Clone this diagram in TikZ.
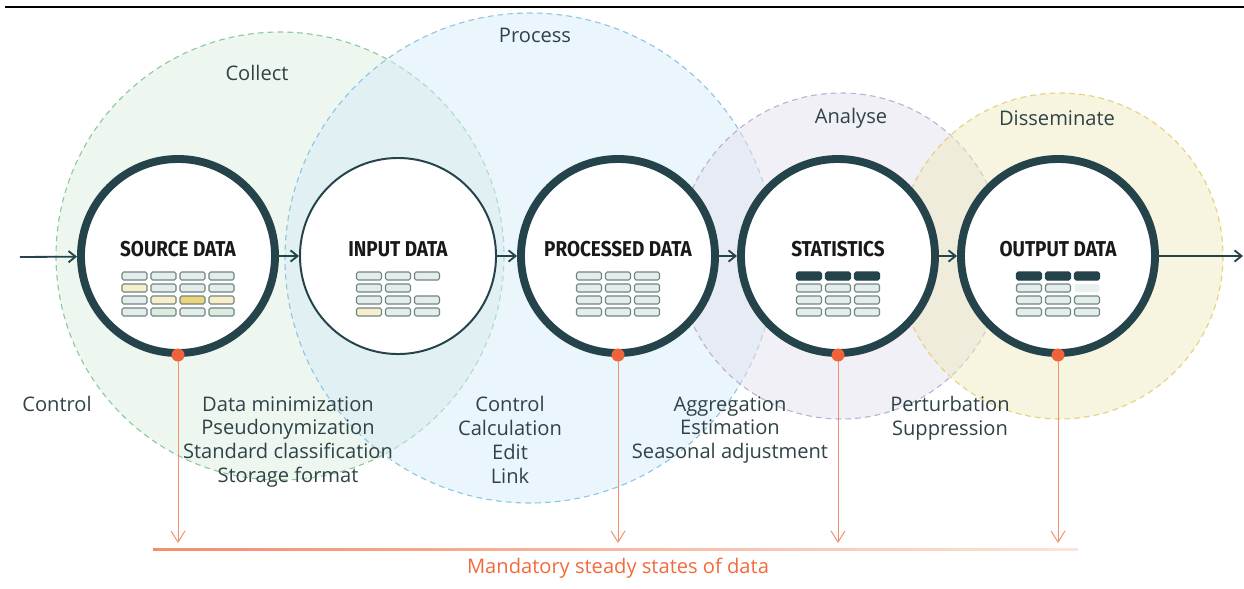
\documentclass[tikz,border=0pt]{standalone}
\usepackage{fontspec}
\setmainfont{Open Sans}
\newfontfamily\titlefont[FakeStretch=0.88]{Fira Sans}
\usetikzlibrary{arrows.meta}

\definecolor{slate}{HTML}{24434A}
\definecolor{txt}{HTML}{2F4347}
\definecolor{orangetxt}{HTML}{F26A3C}
\definecolor{orangeline}{HTML}{F28E6C}
\definecolor{orangedot}{HTML}{F0623A}
\definecolor{collectc}{HTML}{DDEDE1}
\definecolor{collectd}{HTML}{8CCB9C}
\definecolor{processc}{HTML}{D5EDF7}
\definecolor{processd}{HTML}{8EC5E4}
\definecolor{analysec}{HTML}{E5E1EF}
\definecolor{analysed}{HTML}{BBB2D8}
\definecolor{dissemc}{HTML}{EFE9C1}
\definecolor{dissemd}{HTML}{E4D27C}
\definecolor{cellg}{HTML}{E4EDEB}
\definecolor{celly}{HTML}{F8EECB}
\definecolor{cellY}{HTML}{EDD47C}
\definecolor{cellG}{HTML}{DCEDE0}
\definecolor{cellf}{HTML}{E9F1EF}
\definecolor{cellline}{HTML}{6F8683}

\begin{document}
\begin{tikzpicture}[x=0.025cm, y=-0.025cm, % 1 unidade = 1 pixel
  state/.style={circle, draw=slate, line width=5.6pt, fill=white, text=black!90,
    minimum size=4.85cm, inner sep=0pt, text height=8pt, text depth=8pt,
    font=\titlefont\bfseries\fontsize{15.3}{17}\selectfont},
  flow/.style={draw=slate, line width=1.3pt, -{Straight Barb[length=5pt,width=8pt]}},
  drop/.style={draw=orangeline, line width=0.7pt, -{Straight Barb[length=8pt,width=10pt]}},
  phase/.style={dash pattern=on 4pt off 3pt, line width=0.8pt, fill opacity=0.5},
  lbl/.style={font=\fontsize{14.3}{17}\selectfont, text=txt, align=center, inner sep=0pt},
  cell/.style={draw=cellline, line width=0.8pt, rounded corners=1.2pt},
  c-g/.style={fill=cellg}, c-y/.style={fill=celly}, c-Y/.style={fill=cellY},
  c-G/.style={fill=cellG}, c-D/.style={fill=slate, draw=slate},
  c-f/.style={fill=cellf, draw=none}]

  \useasboundingbox (0,0) rectangle (1244,588);
  \draw[line width=2.1pt] (5,7) -- (1244,7);

  % fases
  \draw[phase, draw=collectd, fill=collectc] (280,256) circle[radius=224];
  \draw[phase, draw=processd, fill=processc] (530,258) circle[radius=245];
  \draw[phase, draw=analysed, fill=analysec] (841,256) circle[radius=163];
  \draw[phase, draw=dissemd, fill=dissemc] (1060,256) circle[radius=163];

  \node[lbl] (collect) at (257,73) {Collect};
  \node[lbl] (process) at (535,35) {Process};
  \node[lbl] (analyse) at (851,118) {Analyse};
  \node[lbl] (disseminate) at (1057,118) {Disseminate};

  % estados dos dados
  \node[state] (source) at (178,256) {SOURCE DATA};
  \node[state, line width=1.4pt, minimum size=4.9cm] (input) at (398,256) {INPUT DATA};
  \node[state] (processed) at (618,256) {PROCESSED DATA};
  \node[state] (statistics) at (838,256) {STATISTICS};
  \node[state] (output) at (1058,256) {OUTPUT DATA};

  \foreach \n/\k/\rows in {source/4/{{g,g,g,g},{y,g,g,g},{g,y,Y,y},{g,G,g,G}},
      input/3/{{g,g,g},{g,g},{g,g,g},{y,g,g}},
      processed/3/{{g,g,g},{g,g,g},{g,g,g},{g,g,g}},
      statistics/3/{{D,D,D},{g,g,g},{g,g,g},{g,g,g}},
      output/3/{{D,D,D},{g,g,f},{g,g,g},{g,g,g}}} {
    \pgfmathsetmacro\xo{-(29*(\k-1)+25)/2}
    \begin{scope}[shift={(\n.center)}]
      \foreach \row [count=\r from 0] in \rows
        \foreach \f [count=\c from 0] in \row
          \draw[cell, c-\f] (\xo+29*\c, 16+12*\r) rectangle ++(25,8);
    \end{scope}
  }

  \coordinate (start) at (20,257);
  \coordinate (end) at (1243,256);
  \draw[flow] (start) -- (source);
  \draw[flow] (source) -- (input);
  \draw[flow] (input) -- (processed);
  \draw[flow] (processed) -- (statistics);
  \draw[flow] (statistics) -- (output);
  \draw[flow] (output) -- (end);

  % operacoes
  \node[lbl, anchor=north] (ctrl) at (57,396) {Control};
  \node[lbl, anchor=north] (collect-ops) at (288,396)
    {Data minimization\\Pseudonymization\\Standard classification\\Storage format};
  \node[lbl, anchor=north] (process-ops) at (510,396) {Control\\Calculation\\Edit\\Link};
  \node[lbl, anchor=north] (analyse-ops) at (730,396)
    {Aggregation\\Estimation\\Seasonal adjustment};
  \node[lbl, anchor=north] (dissem-ops) at (950,396) {Perturbation\\Suppression};

  % estados obrigatorios
  \coordinate (bar) at (0,543);
  \shade[left color=orangeline, right color=orangeline!25] (153,548.5) rectangle (1078,550);
  \foreach \n in {source,processed,statistics,output} {
    \draw[drop] (\n.south) -- (\n.south |- bar);
    \fill[orangedot] ([yshift=1.4pt]\n.south) circle[radius=6.5];
  }
  \node[lbl, text=orangetxt] (mandatory) at (618,568) {Mandatory steady states of data};
\end{tikzpicture}
\end{document}
